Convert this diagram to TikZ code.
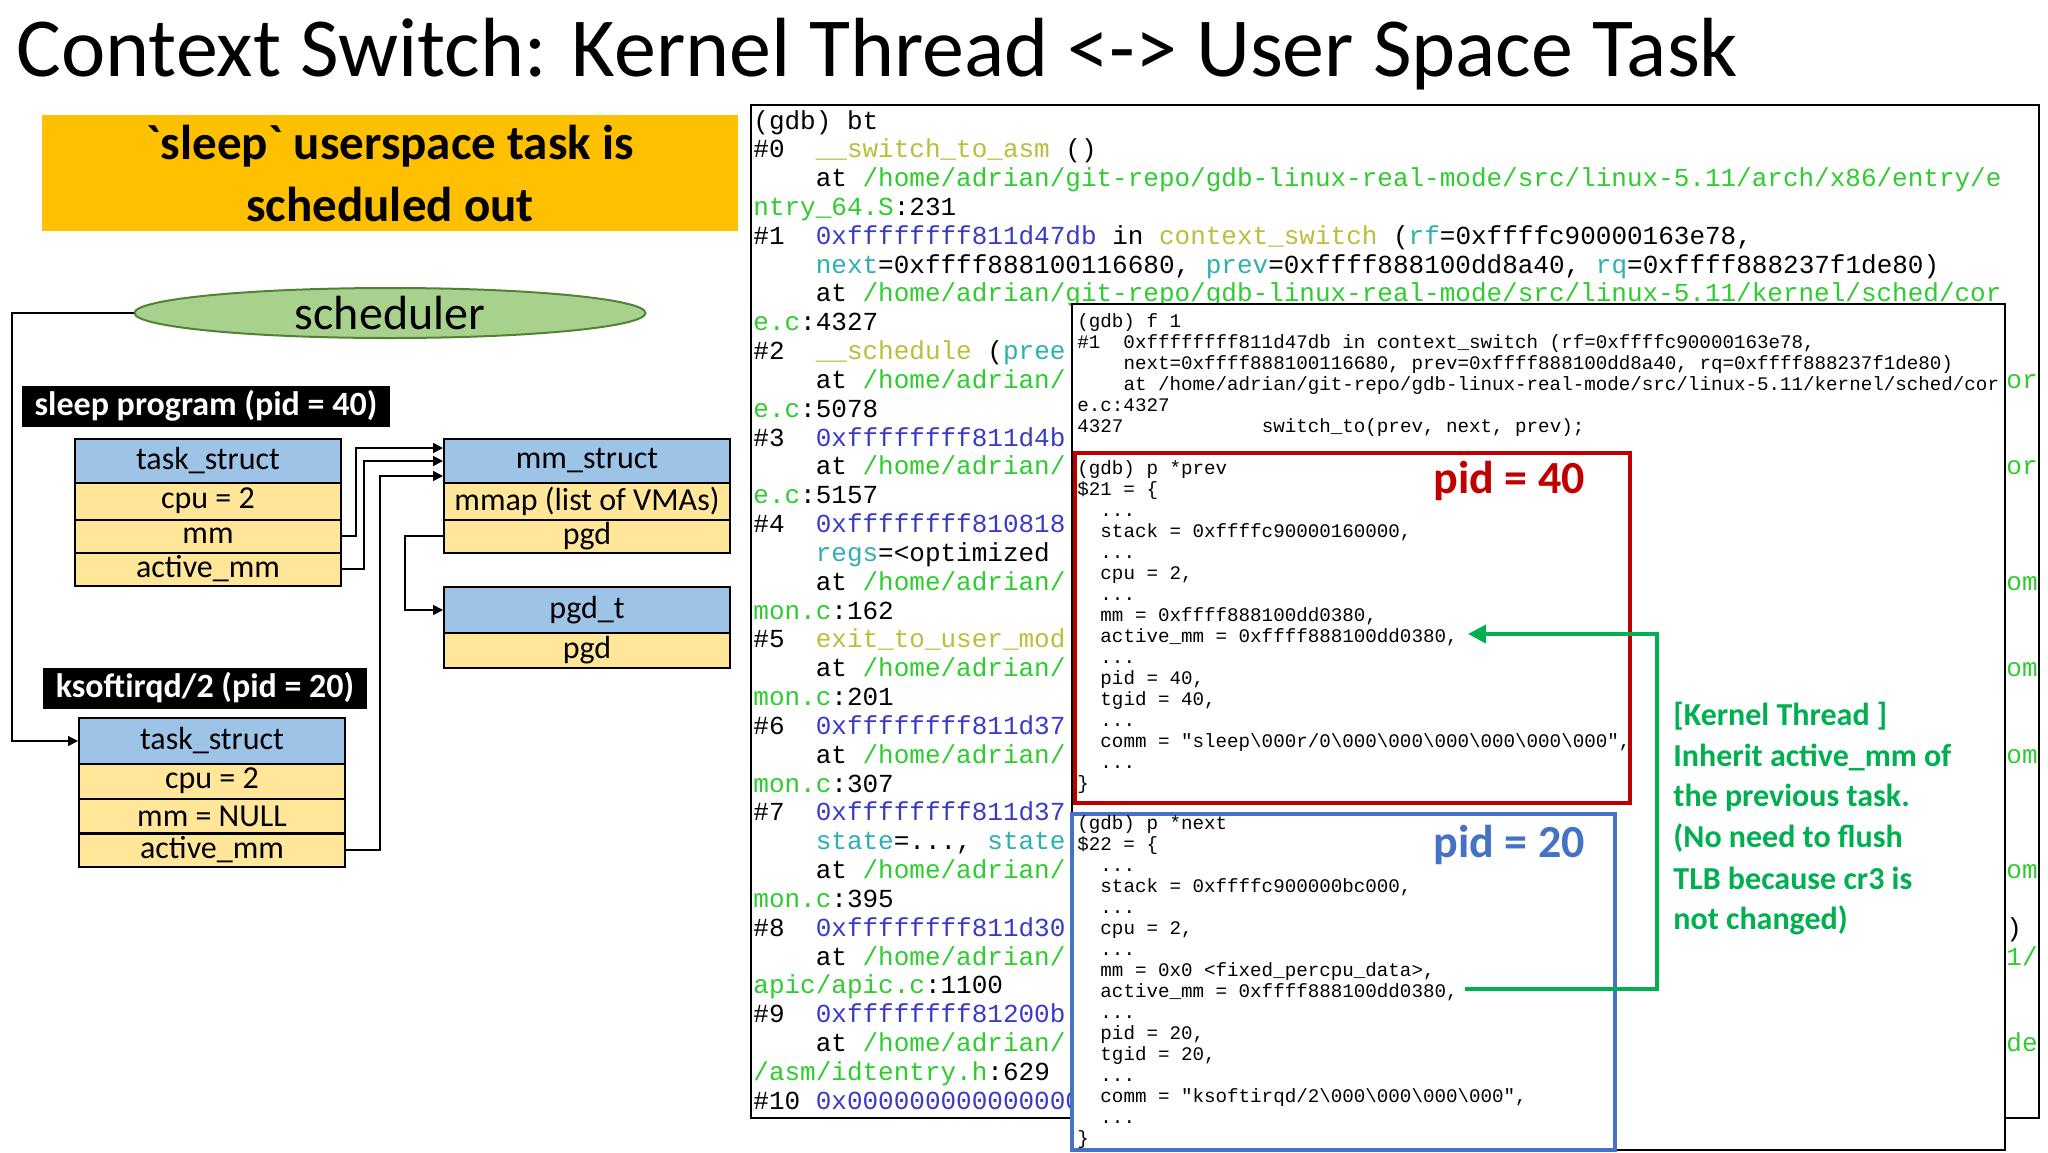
\documentclass[tikz,border=0pt]{standalone}
\usepackage{fontspec}
\setmainfont{Carlito}
\newfontfamily\cmono{Liberation Mono}
\usetikzlibrary{arrows.meta,shapes.geometric}
\definecolor{fnc}{HTML}{BDBD3C}
\definecolor{adc}{HTML}{3A3AC8}
\definecolor{pac}{HTML}{2ECC2E}
\definecolor{prc}{HTML}{2CB0B0}
\definecolor{hdr}{HTML}{9DC3E6}
\definecolor{fld}{HTML}{FFE699}
\definecolor{ban}{HTML}{FFC000}
\definecolor{ell}{HTML}{A9D18E}
\definecolor{ellb}{HTML}{548235}
\definecolor{redb}{HTML}{C00000}
\definecolor{blub}{HTML}{4472C4}
\definecolor{grn}{HTML}{00B050}
\newcommand\F[1]{\textcolor{fnc}{#1}}
\newcommand\A[1]{\textcolor{adc}{#1}}
\newcommand\Pa[1]{\textcolor{pac}{#1}}
\newcommand\Q[1]{\textcolor{prc}{#1}}
\tikzset{
  sz/.style 2 args={minimum width=#1*0.5pt,minimum height=#2*0.5pt},
  cell/.style={draw=black,line width=1pt,inner sep=0pt,font=\fontsize{16}{18}\selectfont},
  hcell/.style={cell,fill=hdr},
  fcell/.style={cell,fill=fld},
  lab/.style={fill=black,text=white,inner sep=0pt,font=\bfseries\fontsize{17}{19}\selectfont},
  code/.style={anchor=base west,inner sep=0pt,font=\cmono\fontsize{13}{14}\selectfont},
  scode/.style={anchor=base west,inner sep=0pt,font=\cmono\fontsize{9.6}{10}\selectfont},
  ptr/.style={-{Triangle[length=5pt,width=5pt]},line width=0.8pt},
  gtxt/.style={anchor=base west,inner sep=0pt,text=grn,font=\bfseries\fontsize{16}{18}\selectfont}
}
\newcommand\cl[2]{\node[code] (b#1) at (753,{129+28.83*#1}) {#2};}
\newcommand\rf[2]{\node[code] (r#1) at (2006,{129+28.83*#1}) {#2};}
\newcommand\pl[2]{\node[scode] (p#1) at (1077,{474+21*#1}) {#2};}
\newcommand\ql[2]{\node[scode] (q#1) at (1077,{829+21*#1}) {#2};}
\newcommand\fl[2]{\node[scode] (f#1) at (1077,{327+21*#1}) {#2};}
\begin{document}
\begin{tikzpicture}[x=0.5pt,y=-0.5pt]
\useasboundingbox[fill=white] (0,0) rectangle (2048,1152);
% title
\node[anchor=base west,inner sep=0pt,font=\fontsize{42}{46}\selectfont] (title) at (16,76) {Context Switch: Kernel Thread <-> User Space Task};
% banner
\node[fill=ban,sz={696}{116},inner sep=0pt,align=center,font=\bfseries\fontsize{24.5}{31}\selectfont] (banner) at (390,173) {\textasciigrave sleep\textasciigrave{} userspace task is\\scheduled out};
% scheduler
\node[ellipse,draw=ellb,fill=ell,line width=1pt,sz={511}{50},inner sep=0pt,font=\fontsize{24}{26}\selectfont] (sched) at (390,313) {scheduler};
% labels
\node[lab,sz={368}{41}] (l40) at (206,406) {sleep program (pid = 40)};
\node[lab,sz={324}{41}] (l20) at (205,688) {ksoftirqd/2 (pid = 20)};
% sleep task_struct
\node[hcell,sz={266}{44}] (t1h) at (208,461) {task\_struct};
\node[fcell,sz={266}{37}] (t1c) at (208,501) {cpu = 2};
\node[fcell,sz={266}{33}] (t1m) at (208,536) {mm};
\node[fcell,sz={266}{33}] (t1a) at (208,569) {active\_mm};
% mm_struct
\node[hcell,sz={286}{45}] (mmh) at (587,461) {mm\_struct};
\node[fcell,sz={286}{37}] (mmm) at (587,501) {mmap (list of VMAs)};
\node[fcell,sz={286}{33}] (mmp) at (587,536) {pgd};
% pgd_t
\node[hcell,sz={286}{46}] (pgh) at (587,610) {pgd\_t};
\node[fcell,sz={286}{35}] (pgp) at (587,650) {pgd};
% ksoftirqd task_struct
\node[hcell,sz={266}{46}] (t2h) at (212,741) {task\_struct};
\node[fcell,sz={266}{35}] (t2c) at (212,781) {cpu = 2};
\node[fcell,sz={266}{34}] (t2m) at (212,816) {mm = NULL};
\node[fcell,sz={266}{33}] (t2a) at (212,850) {active\_mm};
% pointers
\draw[ptr] (t1m.east) -- (356,536) |- ([yshift=6.5pt]mmh.west);
\draw[ptr] (t1a.east) -- (364,569) |- (mmh.west);
\draw[ptr] (t2a.east) -- (380,850) |- ([yshift=-7.5pt]mmh.west);
\draw[ptr] (mmp.west) -- (405,536) |- (pgh.west);
\draw[ptr] (sched.west) -- (12,313) |- (t2h.west);
% main gdb panel
\node[draw=black,line width=1.2pt,sz={1288}{1013},inner sep=0pt] (panel) at (1395,611.5) {};
\cl{0}{(gdb) bt}
\cl{1}{\#0~~\F{\_\_switch\_to\_asm} ()}
\cl{2}{~~~~at \Pa{/home/adrian/git-repo/gdb-linux-real-mode/src/linux-5.11/arch/x86/entry/e}}
\cl{3}{\Pa{ntry\_64.S}:231}
\cl{4}{\#1~~\A{0xffffffff811d47db} in \F{context\_switch} (\Q{rf}=0xffffc90000163e78,}
\cl{5}{~~~~\Q{next}=0xffff888100116680, \Q{prev}=0xffff888100dd8a40, \Q{rq}=0xffff888237f1de80)}
\cl{6}{~~~~at \Pa{/home/adrian/git-repo/gdb-linux-real-mode/src/linux-5.11/kernel/sched/cor}}
\cl{7}{\Pa{e.c}:4327}
\cl{8}{\#2~~\F{\_\_schedule} (\Q{pree}}
\cl{9}{~~~~at \Pa{/home/adrian/}}
\cl{10}{\Pa{e.c}:5078}
\cl{11}{\#3~~\A{0xffffffff811d4b}}
\cl{12}{~~~~at \Pa{/home/adrian/}}
\cl{13}{\Pa{e.c}:5157}
\cl{14}{\#4~~\A{0xffffffff810818}}
\cl{15}{~~~~\Q{regs}=<optimized}
\cl{16}{~~~~at \Pa{/home/adrian/}}
\cl{17}{\Pa{mon.c}:162}
\cl{18}{\#5~~\F{exit\_to\_user\_mod}}
\cl{19}{~~~~at \Pa{/home/adrian/}}
\cl{20}{\Pa{mon.c}:201}
\cl{21}{\#6~~\A{0xffffffff811d37}}
\cl{22}{~~~~at \Pa{/home/adrian/}}
\cl{23}{\Pa{mon.c}:307}
\cl{24}{\#7~~\A{0xffffffff811d37}}
\cl{25}{~~~~\Q{state}=..., \Q{state}}
\cl{26}{~~~~at \Pa{/home/adrian/}}
\cl{27}{\Pa{mon.c}:395}
\cl{28}{\#8~~\A{0xffffffff811d30}}
\cl{29}{~~~~at \Pa{/home/adrian/}}
\cl{30}{\Pa{apic/apic.c}:1100}
\cl{31}{\#9~~\A{0xffffffff81200b}}
\cl{32}{~~~~at \Pa{/home/adrian/}}
\cl{33}{\Pa{/asm/idtentry.h}:629}
\cl{34}{\#10 \A{0x000000000000000}}
\rf{9}{\Pa{or}}
\rf{12}{\Pa{or}}
\rf{16}{\Pa{om}}
\rf{19}{\Pa{om}}
\rf{22}{\Pa{om}}
\rf{26}{\Pa{om}}
\rf{28}{)}
\rf{29}{\Pa{1/}}
\rf{32}{\Pa{de}}
% overlay f 1
\node[draw=black,fill=white,line width=1pt,sz={933}{846},inner sep=0pt] (ovl) at (1538.5,727) {};
\fl{0}{(gdb) f 1}
\fl{1}{\#1~~0xffffffff811d47db in context\_switch (rf=0xffffc90000163e78,}
\fl{2}{~~~~next=0xffff888100116680, prev=0xffff888100dd8a40, rq=0xffff888237f1de80)}
\fl{3}{~~~~at /home/adrian/git-repo/gdb-linux-real-mode/src/linux-5.11/kernel/sched/cor}
\fl{4}{e.c:4327}
\fl{5}{4327~~~~~~~~~~~~switch\_to(prev, next, prev);}
% red box
\node[draw=redb,line width=2pt,sz={555}{350},inner sep=0pt] (redbox) at (1352.5,628) {};
\pl{0}{(gdb) p *prev}
\pl{1}{\$21 = \{}
\pl{2}{~~...}
\pl{3}{~~stack = 0xffffc90000160000,}
\pl{4}{~~...}
\pl{5}{~~cpu = 2,}
\pl{6}{~~...}
\pl{7}{~~mm = 0xffff888100dd0380,}
\pl{8}{~~active\_mm = 0xffff888100dd0380,}
\pl{9}{~~...}
\pl{10}{~~pid = 40,}
\pl{11}{~~tgid = 40,}
\pl{12}{~~...}
\pl{13}{~~comm = "sleep\textbackslash000r/0\textbackslash000\textbackslash000\textbackslash000\textbackslash000\textbackslash000\textbackslash000",}
\pl{14}{~~...}
\pl{15}{\}}
\node[anchor=east,inner sep=0pt,text=redb,font=\bfseries\fontsize{23}{26}\selectfont] (pid40) at (1585,481) {pid = 40};
% blue box
\node[draw=blub,line width=2pt,sz={543}{336},inner sep=0pt] (bluebox) at (1343.5,982) {};
\ql{0}{(gdb) p *next}
\ql{1}{\$22 = \{}
\ql{2}{~~...}
\ql{3}{~~stack = 0xffffc900000bc000,}
\ql{4}{~~...}
\ql{5}{~~cpu = 2,}
\ql{6}{~~...}
\ql{7}{~~mm = 0x0 <fixed\_percpu\_data>,}
\ql{8}{~~active\_mm = 0xffff888100dd0380,}
\ql{9}{~~...}
\ql{10}{~~pid = 20,}
\ql{11}{~~tgid = 20,}
\ql{12}{~~...}
\ql{13}{~~comm = "ksoftirqd/2\textbackslash000\textbackslash000\textbackslash000\textbackslash000",}
\ql{14}{~~...}
\ql{15}{\}}
\node[anchor=east,inner sep=0pt,text=blub,font=\bfseries\fontsize{23}{26}\selectfont] (pid20) at (1585,845) {pid = 20};
% green arrow
\coordinate (gs) at (1465,989);
\coordinate (ge) at (1468,634);
\draw[grn,line width=2pt,-{Triangle[length=9pt,width=9pt]}] (gs) -- (1657,989) |- (ge);
\node[gtxt] (g1) at (1673,725) {[Kernel Thread ]};
\node[gtxt] (g2) at (1673,766) {Inherit active\_mm of};
\node[gtxt] (g3) at (1673,806) {the previous task.};
\node[gtxt] (g4) at (1673,847) {(No need to flush};
\node[gtxt] (g5) at (1673,889) {TLB because cr3 is};
\node[gtxt] (g6) at (1673,929) {not changed)};
\end{tikzpicture}
\end{document}
